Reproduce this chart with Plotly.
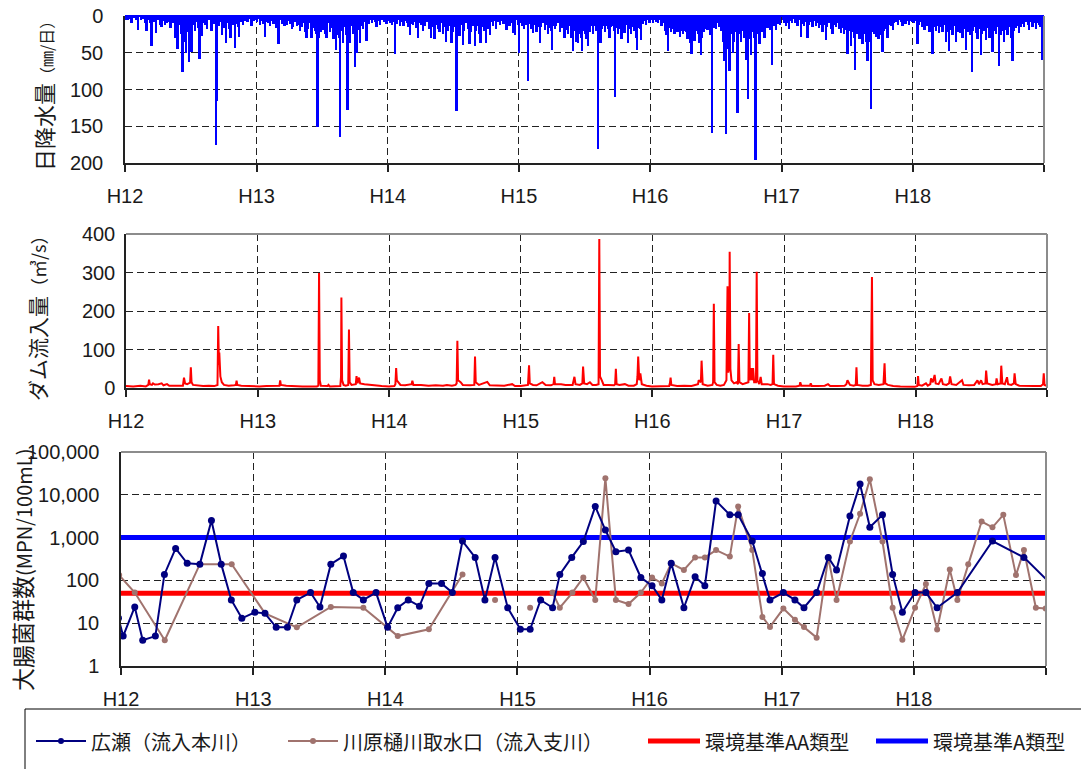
import plotly.graph_objects as go
import pandas as pd

W, H = 1081, 769
START = pd.Timestamp("2000-01-01")

# ---- daily rainfall (day offset from 2000-01-01, mm/day) ----
rain_h12 = [(2,6),(9,5),(14,4),(18,8),(25,3),(30,6),(37,19),(44,5),(50,4),(55,9),(60,19),(66,6),(70,10),(74,39),(80,8),(86,23),(92,6),(97,12),(102,14),(108,7),(112,12),(116,10),(122,8),(127,15),(133,9),(139,30),(143,20),(146,44),(150,12),(155,25),(160,75),(164,28),(167,35),(170,51),(174,20),(178,62),(181,30),(185,48),(190,12),(195,20),(200,8),(204,15),(207,57),(210,10),(213,26),(218,8),(223,12),(229,17),(234,6),(241,19),(246,10),(250,8),(254,175),(255,114),(260,12),(265,8),(269,26),(274,15),(281,37),(287,10),(290,18),(294,28),(300,12),(306,44),(310,9),(314,15),(318,28),(323,8),(329,12),(335,5),(341,7),(347,4),(352,12),(358,6),(362,5)]
rain_h13 = [(368,8),(372,4),(376,12),(380,6),(385,10),(389,28),(394,7),(398,9),(403,14),(408,6),(413,10),(418,8),(422,15),(427,37),(432,6),(438,9),(444,12),(450,12),(455,6),(460,10),(464,18),(468,15),(473,8),(478,14),(483,11),(487,20),(491,14),(495,9),(500,22),(505,28),(509,18),(514,10),(519,28),(524,15),(528,20),(532,25),(536,149),(540,30),(544,20),(547,14),(552,18),(556,25),(561,28),(565,10),(570,22),(575,15),(580,30),(584,20),(587,46),(591,25),(595,30),(598,164),(603,20),(607,37),(612,15),(616,25),(619,126),(622,20),(626,37),(630,12),(635,25),(640,69),(643,30),(646,51),(650,18),(654,37),(658,12),(663,18),(667,8),(672,32),(677,10),(682,6),(687,9),(692,5),(696,8),(700,14),(705,6),(709,12),(714,4),(720,8),(724,5),(728,10)]
rain_h14 = [(733,6),(738,9),(742,12),(746,8),(751,52),(755,10),(760,6),(765,14),(770,8),(775,12),(780,5),(785,9),(789,14),(793,26),(797,10),(802,12),(806,8),(811,15),(816,30),(820,9),(824,12),(829,20),(835,14),(840,8),(845,18),(849,10),(852,30),(856,14),(861,30),(866,12),(870,18),(875,20),(880,10),(884,25),(889,14),(894,35),(898,20),(903,12),(908,35),(912,22),(916,15),(922,128),(926,18),(931,26),(935,12),(940,39),(944,20),(948,10),(954,18),(959,37),(963,22),(968,14),(973,41),(977,20),(981,12),(985,25),(989,35),(993,15),(998,20),(1001,10),(1005,37),(1010,18),(1015,26),(1019,8),(1024,14),(1028,6),(1033,17),(1038,8),(1043,12),(1048,5),(1053,10),(1057,6),(1061,17),(1066,9),(1070,12),(1075,8),(1079,23),(1083,10),(1086,26),(1090,6),(1093,12)]
rain_h15 = [(1097,51),(1101,10),(1105,14),(1110,18),(1115,12),(1121,89),(1125,10),(1130,18),(1135,23),(1140,12),(1145,20),(1150,14),(1154,37),(1158,15),(1163,10),(1168,19),(1172,12),(1177,25),(1181,15),(1185,20),(1188,46),(1192,12),(1196,18),(1200,14),(1205,10),(1210,22),(1214,15),(1218,12),(1223,28),(1228,18),(1232,25),(1236,14),(1241,30),(1246,48),(1250,20),(1255,35),(1260,37),(1264,25),(1268,30),(1271,48),(1275,20),(1280,25),(1284,30),(1288,41),(1292,20),(1297,14),(1302,25),(1306,12),(1311,20),(1316,181),(1319,25),(1323,35),(1327,18),(1332,14),(1336,22),(1340,12),(1344,18),(1348,28),(1352,15),(1356,12),(1360,20),(1364,110),(1368,15),(1372,25),(1377,18),(1381,30),(1385,14),(1390,22),(1394,12),(1399,37),(1403,18),(1408,25),(1412,14),(1416,20),(1421,30),(1425,46),(1429,15),(1433,18),(1436,32),(1440,10),(1445,6),(1450,12),(1455,5),(1459,8)]
rain_h16 = [(1464,6),(1469,10),(1473,4),(1478,8),(1483,10),(1488,6),(1493,12),(1498,8),(1503,20),(1507,25),(1511,48),(1515,15),(1520,22),(1525,18),(1529,23),(1533,15),(1537,20),(1541,18),(1545,28),(1549,20),(1553,25),(1557,19),(1561,22),(1565,30),(1569,25),(1573,35),(1576,51),(1580,30),(1585,32),(1589,20),(1594,25),(1598,35),(1602,53),(1606,30),(1610,20),(1613,17),(1617,12),(1621,18),(1625,10),(1629,25),(1633,159),(1637,15),(1641,10),(1645,18),(1650,10),(1654,14),(1658,20),(1663,35),(1668,60),(1673,161),(1677,45),(1682,73),(1686,25),(1691,51),(1695,35),(1699,20),(1704,130),(1709,25),(1714,35),(1719,20),(1723,30),(1728,60),(1734,113),(1738,30),(1742,53),(1746,20),(1750,30),(1754,195),(1758,25),(1762,20),(1765,37),(1769,15),(1774,20),(1779,28),(1783,12),(1788,15),(1792,10),(1796,18),(1800,66),(1804,12),(1808,8),(1811,19),(1815,10),(1819,6),(1823,12)]
rain_h17 = [(1830,6),(1834,10),(1839,14),(1843,8),(1848,17),(1852,6),(1856,10),(1861,4),(1866,8),(1871,12),(1876,6),(1881,28),(1885,10),(1890,14),(1894,8),(1899,28),(1903,12),(1908,8),(1913,14),(1918,6),(1922,14),(1926,10),(1931,16),(1936,12),(1941,20),(1945,12),(1950,32),(1954,15),(1959,10),(1964,18),(1969,23),(1973,12),(1978,15),(1983,10),(1987,18),(1992,23),(1996,15),(2001,25),(2005,18),(2010,51),(2014,20),(2020,41),(2024,20),(2028,30),(2032,73),(2036,25),(2040,18),(2044,30),(2048,20),(2052,37),(2056,25),(2061,35),(2066,60),(2070,35),(2075,126),(2080,20),(2084,25),(2089,28),(2093,20),(2097,30),(2102,25),(2108,48),(2112,20),(2117,18),(2122,28),(2126,12),(2131,14),(2136,19),(2140,10),(2145,8),(2150,12),(2154,5),(2159,8),(2163,12),(2168,6),(2172,10),(2177,5),(2182,12),(2186,6),(2190,8)]
rain_h18 = [(2195,10),(2199,6),(2205,37),(2209,12),(2214,8),(2219,14),(2224,17),(2229,8),(2233,12),(2238,20),(2242,14),(2247,51),(2251,15),(2256,20),(2261,12),(2265,23),(2270,15),(2275,20),(2279,12),(2284,35),(2288,20),(2293,48),(2297,18),(2302,25),(2307,14),(2312,35),(2316,20),(2321,12),(2325,22),(2330,28),(2335,18),(2340,46),(2344,20),(2348,15),(2352,25),(2356,76),(2360,20),(2363,15),(2367,23),(2372,30),(2377,18),(2381,53),(2385,25),(2390,20),(2395,32),(2400,15),(2405,28),(2410,20),(2414,48),(2418,20),(2423,25),(2427,15),(2432,68),(2436,25),(2441,20),(2446,35),(2450,18),(2455,25),(2460,15),(2465,30),(2469,60),(2473,20),(2478,15),(2483,12),(2488,23),(2492,14),(2497,10),(2502,15),(2507,8),(2512,12),(2516,19),(2521,8),(2525,14),(2530,10),(2534,17),(2539,8),(2543,12),(2547,14),(2551,60),(2554,10)]

# ---- dam inflow (day offset from 2000-01-01, m3/s) ----
dam_h12 = [(0,5),(20,4),(40,6),(55,4),(62,8),(64,22),(66,10),(72,8),(75,12),(80,9),(90,10),(99,12),(104,7),(114,10),(120,6),(140,5),(158,6),(161,27),(164,12),(170,10),(178,14),(180,54),(182,15),(186,8),(200,6),(214,5),(230,6),(245,5),(254,8),(256,161),(258,60),(259,92),(262,30),(266,15),(272,8),(285,6),(300,7),(305,8),(307,19),(309,8),(320,6),(338,5),(355,4)]
dam_h13 = [(370,4),(390,5),(410,6),(426,6),(428,20),(430,8),(445,6),(470,4),(490,4),(510,4),(530,4),(534,6),(536,299),(538,20),(541,6),(560,5),(562,8),(566,4),(580,4),(595,5),(597,30),(598,235),(600,20),(604,8),(610,6),(617,8),(619,152),(621,15),(626,8),(638,10),(640,31),(643,12),(647,27),(650,12),(662,10),(676,8),(690,6),(710,5),(730,4)]
dam_h14 = [(745,5),(748,10),(750,52),(752,20),(757,15),(762,8),(775,7),(793,10),(795,19),(798,8),(819,8),(840,6),(860,7),(880,6),(891,8),(905,6),(915,8),(918,12),(920,123),(922,20),(929,15),(935,8),(955,7),(967,8),(969,82),(971,15),(980,8),(1003,16),(1010,7),(1030,6),(1050,6),(1072,10),(1080,5)]
dam_h15 = [(1096,5),(1110,6),(1116,8),(1119,59),(1121,12),(1130,8),(1140,7),(1156,15),(1165,8),(1180,7),(1187,10),(1189,29),(1191,10),(1208,10),(1220,8),(1240,8),(1245,29),(1248,10),(1260,8),(1267,12),(1269,56),(1272,12),(1280,10),(1288,15),(1295,8),(1305,8),(1312,10),(1314,387),(1316,30),(1321,20),(1326,8),(1340,8),(1355,7),(1358,10),(1360,50),(1362,10),(1370,8),(1385,10),(1395,6),(1410,6),(1418,10),(1420,30),(1422,82),(1425,20),(1428,38),(1432,10),(1445,6),(1460,4)]
dam_h16 = [(1470,4),(1490,4),(1508,5),(1510,12),(1512,27),(1514,8),(1530,5),(1550,6),(1570,5),(1588,10),(1590,20),(1596,15),(1598,71),(1601,10),(1615,6),(1628,8),(1630,15),(1632,219),(1634,15),(1640,8),(1650,6),(1660,8),(1667,20),(1668,100),(1670,264),(1672,40),(1675,60),(1676,354),(1678,50),(1681,20),(1688,12),(1695,15),(1699,10),(1701,114),(1703,15),(1712,10),(1720,12),(1728,15),(1730,195),(1732,20),(1736,52),(1738,20),(1741,52),(1744,15),(1749,15),(1751,302),(1753,20),(1758,10),(1762,29),(1765,10),(1781,10),(1790,8),(1795,10),(1797,86),(1799,10),(1810,6),(1826,4)]
dam_h17 = [(1840,4),(1860,4),(1870,6),(1872,15),(1875,6),(1890,5),(1899,6),(1901,12),(1904,5),(1920,5),(1940,6),(1949,10),(1955,5),(1975,5),(1995,6),(2000,10),(2003,20),(2006,15),(2010,8),(2020,6),(2026,8),(2028,54),(2030,8),(2045,6),(2060,6),(2068,8),(2071,288),(2073,20),(2078,10),(2090,8),(2103,10),(2106,64),(2108,12),(2115,8),(2130,5),(2150,4),(2175,3),(2190,3)]
dam_h18 = [(2197,5),(2199,31),(2201,8),(2210,6),(2221,12),(2226,6),(2233,10),(2235,25),(2240,15),(2245,34),(2248,12),(2256,10),(2264,25),(2268,10),(2278,8),(2285,12),(2288,30),(2292,10),(2305,8),(2321,20),(2325,8),(2340,7),(2355,8),(2364,20),(2368,10),(2374,20),(2378,10),(2386,12),(2388,45),(2391,12),(2405,8),(2415,10),(2417,25),(2420,10),(2428,12),(2430,58),(2433,12),(2440,10),(2446,28),(2449,10),(2458,8),(2465,12),(2467,38),(2470,10),(2480,6),(2500,5),(2520,5),(2540,5),(2546,10),(2548,38),(2550,8),(2556,6)]

# ---- coliform counts (MPN/100mL) ----
hirose_dates = ["1999-12-25","2000-01-07","2000-02-08","2000-03-01","2000-04-05","2000-04-30","2000-05-31","2000-07-02","2000-08-06","2000-09-07","2000-10-04","2000-11-01","2000-11-30",
                "2001-01-05","2001-02-02","2001-03-05","2001-04-05","2001-05-01","2001-06-08","2001-07-04","2001-08-03","2001-09-07","2001-10-04","2001-11-01","2001-12-06",
                "2002-01-07","2002-02-04","2002-03-05","2002-04-05","2002-05-01","2002-06-05","2002-07-05","2002-08-02","2002-09-06","2002-10-03","2002-10-31","2002-12-05",
                "2003-01-09","2003-02-05","2003-03-06","2003-04-08","2003-04-28","2003-05-31","2003-07-02","2003-08-04","2003-09-01","2003-09-30","2003-11-04","2003-12-08",
                "2004-01-08","2004-02-04","2004-03-01","2004-04-05","2004-05-06","2004-06-02","2004-07-03","2004-08-10","2004-09-02","2004-10-11","2004-11-08","2004-11-29",
                "2005-01-05","2005-02-06","2005-03-03","2005-04-07","2005-05-09","2005-06-01","2005-07-08","2005-08-05","2005-09-01","2005-10-06","2005-11-03","2005-11-30",
                "2006-01-04","2006-02-03","2006-03-06","2006-05-01","2006-08-06","2006-11-01","2007-01-10"]
hirose_mpn = [13, 5, 24, 4, 5, 138, 560, 250, 240, 2500, 240, 35, 13,
              18, 17, 8, 8, 35, 52, 24, 240, 370, 52, 35, 52,
              8, 23, 35, 25, 85, 85, 52, 830, 345, 35, 345, 23,
              7.2, 7.2, 35, 23, 138, 345, 810, 5300, 1500, 470, 510, 117,
              75, 35, 250, 23, 122, 75, 7200, 3400, 3400, 830, 145, 35,
              52, 35, 23, 52, 345, 175, 3200, 17800, 1740, 3400, 138, 18,
              52, 52, 23, 52, 830, 345, 90]

kawahara_dates = ["1999-12-27","2000-02-08","2000-05-01","2000-08-06","2000-11-02",
                  "2001-02-02","2001-05-01","2001-08-03","2001-11-01",
                  "2002-02-04","2002-05-01","2002-08-02","2002-09-15","2002-10-31","2002-12-15",
                  "2003-02-05","2003-03-15","2003-04-08","2003-04-28","2003-06-02","2003-07-02","2003-08-04","2003-09-01","2003-09-30","2003-11-04","2003-12-08",
                  "2004-01-08","2004-02-04","2004-03-01","2004-04-05","2004-05-06","2004-06-02","2004-07-03","2004-08-10","2004-09-02","2004-10-11","2004-11-08","2004-11-29",
                  "2005-01-05","2005-02-06","2005-03-03","2005-04-07","2005-05-09","2005-06-01","2005-07-08","2005-08-05","2005-09-01","2005-10-06","2005-11-03","2005-11-30",
                  "2006-01-04","2006-02-03","2006-03-06","2006-04-10","2006-05-01","2006-05-31","2006-07-07","2006-08-06","2006-09-05","2006-10-10","2006-11-01","2006-12-04","2006-12-31"]
kawahara_mpn = [133, 52, 4, 240, 240,
                17, 8, 24, 23,
                5, 7.2, 138, None, 35, None,
                23, None, 52, 23, 52, 117, 35, 24500, 35, 28, 52,
                117, 85, 250, 175, 345, 345, 510, 360, 5300, 510, 14, 8.2,
                22, 12, 8.2, 4.6, 345, 35, 810, 3600, 23000, 810, 23, 4.1,
                23, 82, 7.1, 180, 35, 240, 2370, 1740, 3400, 133, 510, 23, 22]

std_aa = 50      # 環境基準AA類型
std_a = 1000     # 環境基準A類型

year_ticks = [f"{y}-01-01" for y in range(2000, 2008)]
year_labels = ["H12", "H13", "H14", "H15", "H16", "H17", "H18", ""]
x_range = ["2000-01-01", "2007-01-01"]


def to_dates(days):
    return [(START + pd.Timedelta(days=d)).strftime("%Y-%m-%d") for d in days]


rain = rain_h12 + rain_h13 + rain_h14 + rain_h15 + rain_h16 + rain_h17 + rain_h18
rain_day = [d for d, _ in rain]
rain_mm = [v for _, v in rain]
dam = dam_h12 + dam_h13 + dam_h14 + dam_h15 + dam_h16 + dam_h17 + dam_h18
dam_day = [d for d, _ in dam]
dam_flow = [v for _, v in dam]

NAVY = "#000080"
BROWN = "#A0736E"
GRID = "#222222"
FRAME = "#8C8C8C"
TEXT = "#1A1A1A"
JP = "Noto Sans CJK JP"
NUM = "Liberation Sans"

fig = go.Figure()

fig.add_trace(go.Bar(
    x=to_dates(rain_day), y=rain_mm, xaxis="x", yaxis="y",
    width=86400000, marker=dict(color="#0000FF", line=dict(color="#0000FF", width=2)),
    showlegend=False))

fig.add_trace(go.Scatter(
    x=to_dates(dam_day), y=dam_flow, xaxis="x2", yaxis="y2", mode="lines",
    line=dict(color="#FF0000", width=2), showlegend=False))

fig.add_trace(go.Scatter(
    x=x_range, y=[std_aa, std_aa], xaxis="x3", yaxis="y3", mode="lines",
    line=dict(color="#FF0000", width=5), showlegend=False))
fig.add_trace(go.Scatter(
    x=x_range, y=[std_a, std_a], xaxis="x3", yaxis="y3", mode="lines",
    line=dict(color="#0000FF", width=5), showlegend=False))
fig.add_trace(go.Scatter(
    x=kawahara_dates, y=kawahara_mpn, xaxis="x3", yaxis="y3", mode="lines+markers",
    connectgaps=False, line=dict(color=BROWN, width=2), marker=dict(color=BROWN, size=6),
    showlegend=False))
fig.add_trace(go.Scatter(
    x=hirose_dates, y=hirose_mpn, xaxis="x3", yaxis="y3", mode="lines+markers",
    line=dict(color=NAVY, width=2), marker=dict(color=NAVY, size=7),
    showlegend=False))


def px_dom_x(a, b):
    return [a / W, b / W]


def px_dom_y(top, bottom):
    return [1 - bottom / H, 1 - top / H]


panels = {
    "": dict(x=(125, 1044), y=(16, 163)),
    "2": dict(x=(126, 1047), y=(234, 388)),
    "3": dict(x=(121, 1046), y=(452, 666)),
}

common_x = dict(
    type="date", range=x_range, tickmode="array", tickvals=year_ticks, ticktext=year_labels,
    showgrid=True, gridcolor=GRID, gridwidth=1, griddash="7px,4px",
    showline=True, linecolor=GRID, linewidth=1.5,
    ticks="outside", ticklen=7, tickwidth=1.5, tickcolor=GRID,
    tickfont=dict(family=NUM, size=20, color=TEXT), ticklabelstandoff=7,
    zeroline=False, fixedrange=True, automargin=False,
)
common_y = dict(
    showgrid=True, gridcolor=GRID, gridwidth=1, griddash="7px,4px",
    showline=True, linecolor=GRID, linewidth=1.5, ticks="",
    tickfont=dict(family=NUM, size=20, color=TEXT),
    zeroline=False, fixedrange=True, automargin=False,
)

for key, p in panels.items():
    fig.layout["xaxis" + key] = dict(common_x, domain=px_dom_x(*p["x"]), anchor="y" + key)
    fig.layout["yaxis" + key] = dict(common_y, domain=px_dom_y(*p["y"]), anchor="x" + key)

fig.layout.yaxis.update(range=[200, 0], tickvals=[0, 50, 100, 150, 200], ticklabelstandoff=16)
fig.layout.yaxis2.update(range=[0, 400], tickvals=[0, 100, 200, 300, 400], ticklabelstandoff=5)
fig.layout.yaxis3.update(type="log", range=[0, 5],
                         tickvals=[1, 10, 100, 1000, 10000, 100000],
                         ticktext=["1", "10", "100", "1,000", "10,000", "100,000"],
                         ticklabelstandoff=16)

shapes = []
# panel frames: gray top and right edges
for key, p in panels.items():
    (x0, x1), (y0, y1) = p["x"], p["y"]
    top_color = "#0000FF" if key == "" else FRAME
    shapes.append(dict(type="line", xref="paper", yref="paper", x0=x0 / W, x1=x1 / W,
                       y0=1 - y0 / H, y1=1 - y0 / H, line=dict(color=top_color, width=2), layer="above"))
    shapes.append(dict(type="line", xref="paper", yref="paper", x0=x1 / W, x1=x1 / W,
                       y0=1 - y0 / H, y1=1 - y1 / H, line=dict(color=FRAME, width=2), layer="above"))

# legend box
LEG_Y = 741
shapes.append(dict(type="rect", xref="paper", yref="paper", x0=25 / W, x1=1090 / W,
                   y0=1 - 780 / H, y1=1 - 709 / H, line=dict(color="#000000", width=1),
                   fillcolor="rgba(0,0,0,0)"))
legend_items = [
    (36, 86, NAVY, 2, True, "広瀬（流入本川）"),
    (288, 338, BROWN, 2, True, "川原樋川取水口（流入支川）"),
    (648, 700, "#FF0000", 5, False, "環境基準AA類型"),
    (876, 928, "#0000FF", 5, False, "環境基準A類型"),
]
annotations = []
for lx0, lx1, col, lw, has_marker, label in legend_items:
    yy = 1 - LEG_Y / H
    shapes.append(dict(type="line", xref="paper", yref="paper", x0=lx0 / W, x1=lx1 / W,
                       y0=yy, y1=yy, line=dict(color=col, width=lw)))
    if has_marker:
        cx = (lx0 + lx1) / 2
        r = 3
        shapes.append(dict(type="circle", xref="paper", yref="paper",
                           x0=(cx - r) / W, x1=(cx + r) / W, y0=1 - (LEG_Y + r) / H, y1=1 - (LEG_Y - r) / H,
                           fillcolor=col, line=dict(color=col, width=0)))
    annotations.append(dict(text=label, xref="paper", yref="paper", x=(lx1 + 3) / W, y=yy,
                            xanchor="left", yanchor="middle", showarrow=False,
                            font=dict(family=JP, size=20, color=TEXT)))

# axis titles
titles = [
    ("日降水量<span style='font-size:16px'>（㎜/日）</span>", 43, 92, 22),
    ("ダム流入量<span style='font-size:18px'>（㎥/s）</span>", 37, 314, 21),
    ("大腸菌群数<span style='font-size:20px'>(MPN/100mL)</span>", 22, 570, 23),
]
for txt, cx, cy, size in titles:
    annotations.append(dict(text=txt, xref="paper", yref="paper", x=cx / W, y=1 - cy / H,
                            xanchor="center", yanchor="middle", textangle=-90, showarrow=False,
                            font=dict(family=JP, size=size, color=TEXT)))

fig.update_layout(
    width=W, height=H, autosize=False,
    margin=dict(l=0, r=0, t=0, b=0, autoexpand=False),
    paper_bgcolor="white", plot_bgcolor="white",
    font=dict(family=NUM, color=TEXT),
    bargap=0, showlegend=False,
    shapes=shapes, annotations=annotations,
)

fig.write_html("out.html", config={"displayModeBar": False})
